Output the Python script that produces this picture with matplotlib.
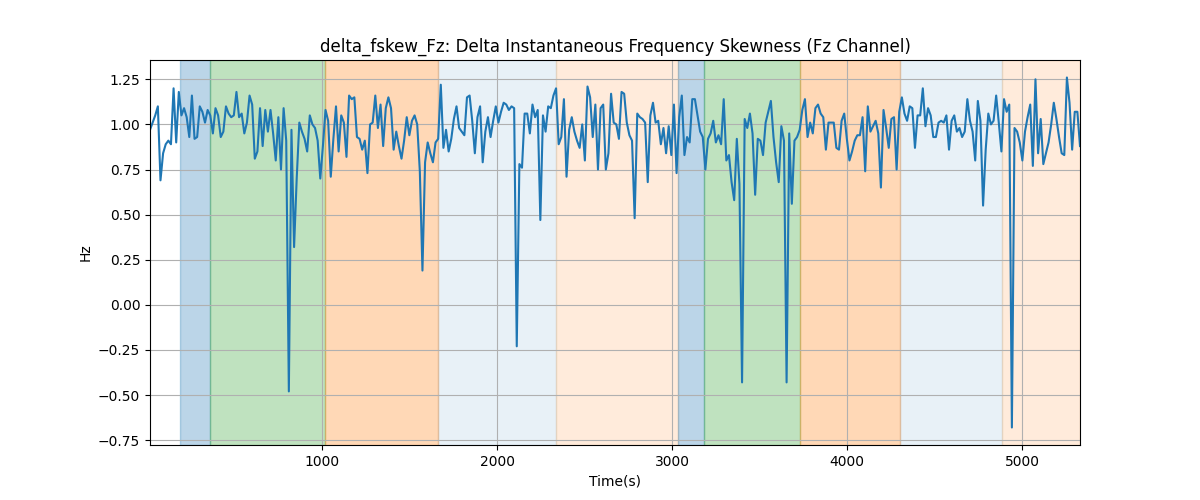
import numpy as np
import matplotlib
matplotlib.use("Agg")
import matplotlib.pyplot as plt

# signal values, left to right
seg1 = [0.97, 1.01, 1.05, 1.10, 0.69, 0.84, 0.89, 0.91, 0.89, 1.20, 0.90, 1.18, 1.05, 1.09, 1.04, 0.93,
        1.16, 0.92, 0.93, 1.10, 1.07, 1.01, 1.08, 1.05, 0.95, 1.09, 1.05, 0.93, 0.96, 1.10, 1.06, 1.04,
        1.05, 1.18, 1.04, 1.06, 0.95]
seg2 = [1.01, 1.16, 1.11, 0.81, 0.85, 1.09, 0.88, 1.08, 0.96, 1.08, 0.95, 0.80, 1.04, 0.75, 1.09, 0.91,
        -0.48, 0.97, 0.32, 0.70, 1.01, 0.96, 0.92, 0.85, 1.05, 1.00, 0.98, 0.91, 0.70, 0.88, 1.08, 1.02,
        0.71, 0.92, 1.10]
seg3 = [0.85, 1.05, 1.01, 0.82, 1.16, 1.14, 1.15, 0.93, 0.92, 0.86, 0.91, 0.73, 1.00, 1.01, 1.16, 0.98,
        1.11, 0.88, 1.09, 1.15, 1.09, 0.86, 0.96, 0.88, 0.81, 0.91, 1.04, 0.94, 1.02, 1.05, 1.00, 0.74,
        0.19, 0.79, 0.90, 0.84]
seg4 = [0.79, 0.90, 0.92, 1.22, 0.87, 0.97, 0.85, 0.92, 1.03, 1.10, 0.98, 0.96, 0.94, 1.15, 1.16, 1.02,
        0.84, 1.04, 1.10, 0.79, 0.96, 1.04, 0.93, 1.02, 1.10, 1.01, 1.07, 1.12, 1.11, 1.08, 1.10, 1.09,
        -0.23, 0.78, 0.76, 1.06, 1.06]
seg5 = [0.95, 1.11, 1.04, 1.08, 0.47, 1.05, 0.96, 1.10, 1.09, 1.16, 1.20, 0.89, 0.93, 1.14, 0.71, 0.97,
        1.04, 0.96, 0.91, 0.87, 1.00, 0.80, 1.21, 1.15, 0.93, 1.11, 0.75, 1.09, 1.11, 0.75, 0.84, 1.17,
        1.01, 1.00, 0.92, 1.18, 1.17]
seg6 = [1.01, 0.94, 0.91, 0.48, 1.06, 1.04, 1.03, 1.01, 0.68, 1.05, 1.12, 1.01, 1.02, 0.89, 0.98, 0.84,
        0.99, 0.83, 1.11, 0.73, 1.04, 1.16, 0.83, 0.93, 0.90, 1.14, 1.14, 1.05, 0.96, 0.93, 0.75, 0.92,
        0.95, 1.02, 0.90, 0.94]
seg7 = [0.89, 1.14, 0.80, 0.83, 0.68, 0.58, 0.92, 0.67, -0.43, 1.03, 0.98, 1.06, 0.95, 0.61, 0.92, 0.91,
        0.83, 1.01, 1.07, 1.13, 0.93, 0.79, 0.68, 0.99, 0.91, -0.43, 0.95, 0.56, 0.91, 0.93, 0.97, 1.08,
        1.14, 0.93, 1.01, 0.95]
seg8 = [1.09, 1.11, 1.06, 1.04, 0.86, 1.01, 1.01, 1.01, 0.87, 0.86, 1.02, 1.06, 0.92, 0.80, 0.85, 0.91,
        0.94, 0.94, 1.04, 0.74, 1.10, 0.96, 0.99, 1.02, 0.95, 0.65, 1.08, 0.98, 0.87, 1.03, 1.04, 0.75,
        1.07, 1.15, 1.06, 1.02, 1.10]
seg9 = [1.09, 0.87, 1.05, 1.05, 1.20, 0.99, 1.09, 1.05, 0.93, 0.93, 1.01, 1.02, 1.01, 1.05, 0.86, 1.02,
        1.05, 0.96, 0.98, 0.93, 0.96, 1.14, 1.02, 0.96, 0.80, 1.13, 1.02, 0.55, 0.86, 1.06, 1.00, 1.02,
        1.16, 1.01, 0.85, 1.14]
seg10 = [1.07, 1.11, -0.68, 0.98, 0.96, 0.90, 0.80, 0.96, 1.04, 1.11, 0.77, 1.25, 0.84, 1.03, 0.78, 0.84,
         0.90, 1.00, 1.12, 1.03, 0.93, 0.84, 0.83, 1.26, 1.12, 0.86, 1.07, 1.07, 0.88]

values = np.array(seg1 + seg2 + seg3 + seg4 + seg5 + seg6 + seg7 + seg8 + seg9 + seg10)
t_start, t_end = 17, 5331
time = np.linspace(t_start, t_end, len(values))

# shaded phases
span_edges = [189, 360, 1017, 1663, 2337, 3034, 3183, 3731, 4303, 4886, t_end]
span_colors = ['tab:blue', 'tab:green', 'tab:orange', 'tab:blue', 'tab:orange',
               'tab:blue', 'tab:green', 'tab:orange', 'tab:blue', 'tab:orange']
span_alphas = [0.3, 0.3, 0.3, 0.1, 0.15, 0.3, 0.3, 0.3, 0.1, 0.15]

fig, ax = plt.subplots(figsize=(12, 5), dpi=100)
for i in range(len(span_colors)):
    ax.axvspan(span_edges[i], span_edges[i + 1], color=span_colors[i], alpha=span_alphas[i])

ax.plot(time, values, color='tab:blue')
ax.set_xlim(time[0], time[-1])
ax.grid(True)
ax.set_title('delta_fskew_Fz: Delta Instantaneous Frequency Skewness (Fz Channel)')
ax.set_xlabel('Time(s)')
ax.set_ylabel('Hz')

plt.savefig('out.png')
